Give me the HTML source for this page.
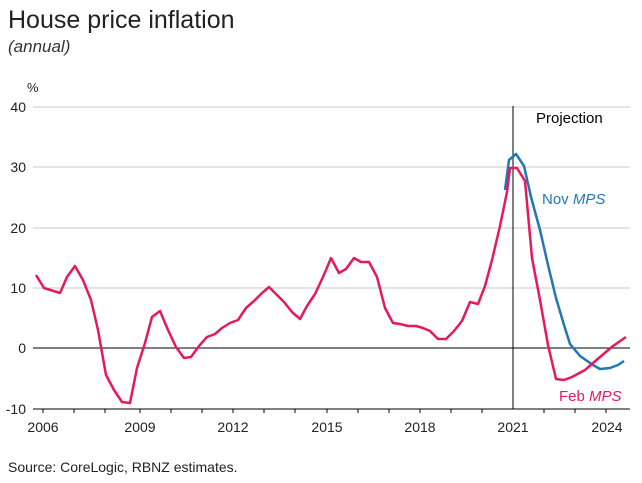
<!DOCTYPE html>
<html><head><style>body{margin:0;background:#fff}</style></head><body>
<svg width="642" height="478" xmlns="http://www.w3.org/2000/svg" font-family="Liberation Sans, sans-serif">
<text x="8" y="28" font-size="25" fill="#222">House price inflation</text>
<text x="8" y="52" font-size="17" font-style="italic" fill="#333">(annual)</text>
<text x="27" y="92" font-size="13" fill="#222">%</text>
<g stroke="#c8c8c8" stroke-width="1">
<line x1="33" x2="630" y1="107" y2="107"/><line x1="33" x2="630" y1="167" y2="167"/>
<line x1="33" x2="630" y1="228" y2="228"/><line x1="33" x2="630" y1="288" y2="288"/>
</g>
<line x1="33" x2="630" y1="348" y2="348" stroke="#000"/>
<line x1="33" x2="630" y1="409" y2="409" stroke="#000"/>
<line x1="513" x2="513" y1="106" y2="409" stroke="#000"/>
<g stroke="#000"><line x1="43" x2="43" y1="409" y2="413"/><line x1="74" x2="74" y1="409" y2="413"/><line x1="105" x2="105" y1="409" y2="413"/><line x1="140" x2="140" y1="409" y2="413"/><line x1="171" x2="171" y1="409" y2="413"/><line x1="202" x2="202" y1="409" y2="413"/><line x1="233" x2="233" y1="409" y2="413"/><line x1="264" x2="264" y1="409" y2="413"/><line x1="295" x2="295" y1="409" y2="413"/><line x1="327" x2="327" y1="409" y2="413"/><line x1="358" x2="358" y1="409" y2="413"/><line x1="389" x2="389" y1="409" y2="413"/><line x1="420" x2="420" y1="409" y2="413"/><line x1="451" x2="451" y1="409" y2="413"/><line x1="482" x2="482" y1="409" y2="413"/><line x1="544" x2="544" y1="409" y2="413"/><line x1="575" x2="575" y1="409" y2="413"/><line x1="606" x2="606" y1="409" y2="413"/></g>
<g font-size="14" fill="#222" text-anchor="end">
<text x="26" y="112">40</text><text x="26" y="172">30</text><text x="26" y="233">20</text><text x="26" y="293">10</text><text x="26" y="353">0</text><text x="26" y="414">-10</text>
</g>
<g font-size="14" fill="#222" text-anchor="middle">
<text x="43" y="432">2006</text><text x="140" y="432">2009</text><text x="233" y="432">2012</text><text x="327" y="432">2015</text><text x="420" y="432">2018</text><text x="513" y="432">2021</text><text x="607" y="432">2024</text>
</g>
<text x="536" y="123" font-size="15" fill="#000">Projection</text>
<text x="542" y="204" font-size="15" fill="#1f77b8">Nov <tspan font-style="italic">MPS</tspan></text>
<text x="559" y="401" font-size="15" fill="#e5195e">Feb <tspan font-style="italic">MPS</tspan></text>
<polyline fill="none" stroke="#1f77b8" stroke-width="2.5" stroke-linejoin="round" points="505,190 509,160 516,154 524,166 531,197 540,230 548,265 556,298 564,325 570,344 580,356 593,365 600,369 610,368 618,365 624,361"/>
<polyline fill="none" stroke="#e5195e" stroke-width="2.5" stroke-linejoin="round" points="36,275 44,288 60,293 67,277 75,266 83,280 91,300 98,330 106,375 114,390 122,402 130,403 137,368 145,343 152,317 160,311 168,330 176,347 184,358 191,357 199,346 207,337 215,334 222,328 230,323 238,320 246,308 254,301 261,294 269,287 276,294 284,302 292,312 300,319 307,306 315,294 323,277 331,258 339,273 346,269 354,258 361,262 369,262 377,277 385,308 393,323 400,324 408,326 416,326 423,328 430,331 438,339 446,339 454,331 462,321 470,302 478,304 485,286 492,260 500,226 507,192 510,168 517,168 525,181 532,258 540,300 548,345 556,379 564,380 572,377 585,370 600,357 613,346 626,337"/>
<text x="8" y="472" font-size="14" fill="#222">Source: CoreLogic, RBNZ estimates.</text>
</svg>
</body></html>
